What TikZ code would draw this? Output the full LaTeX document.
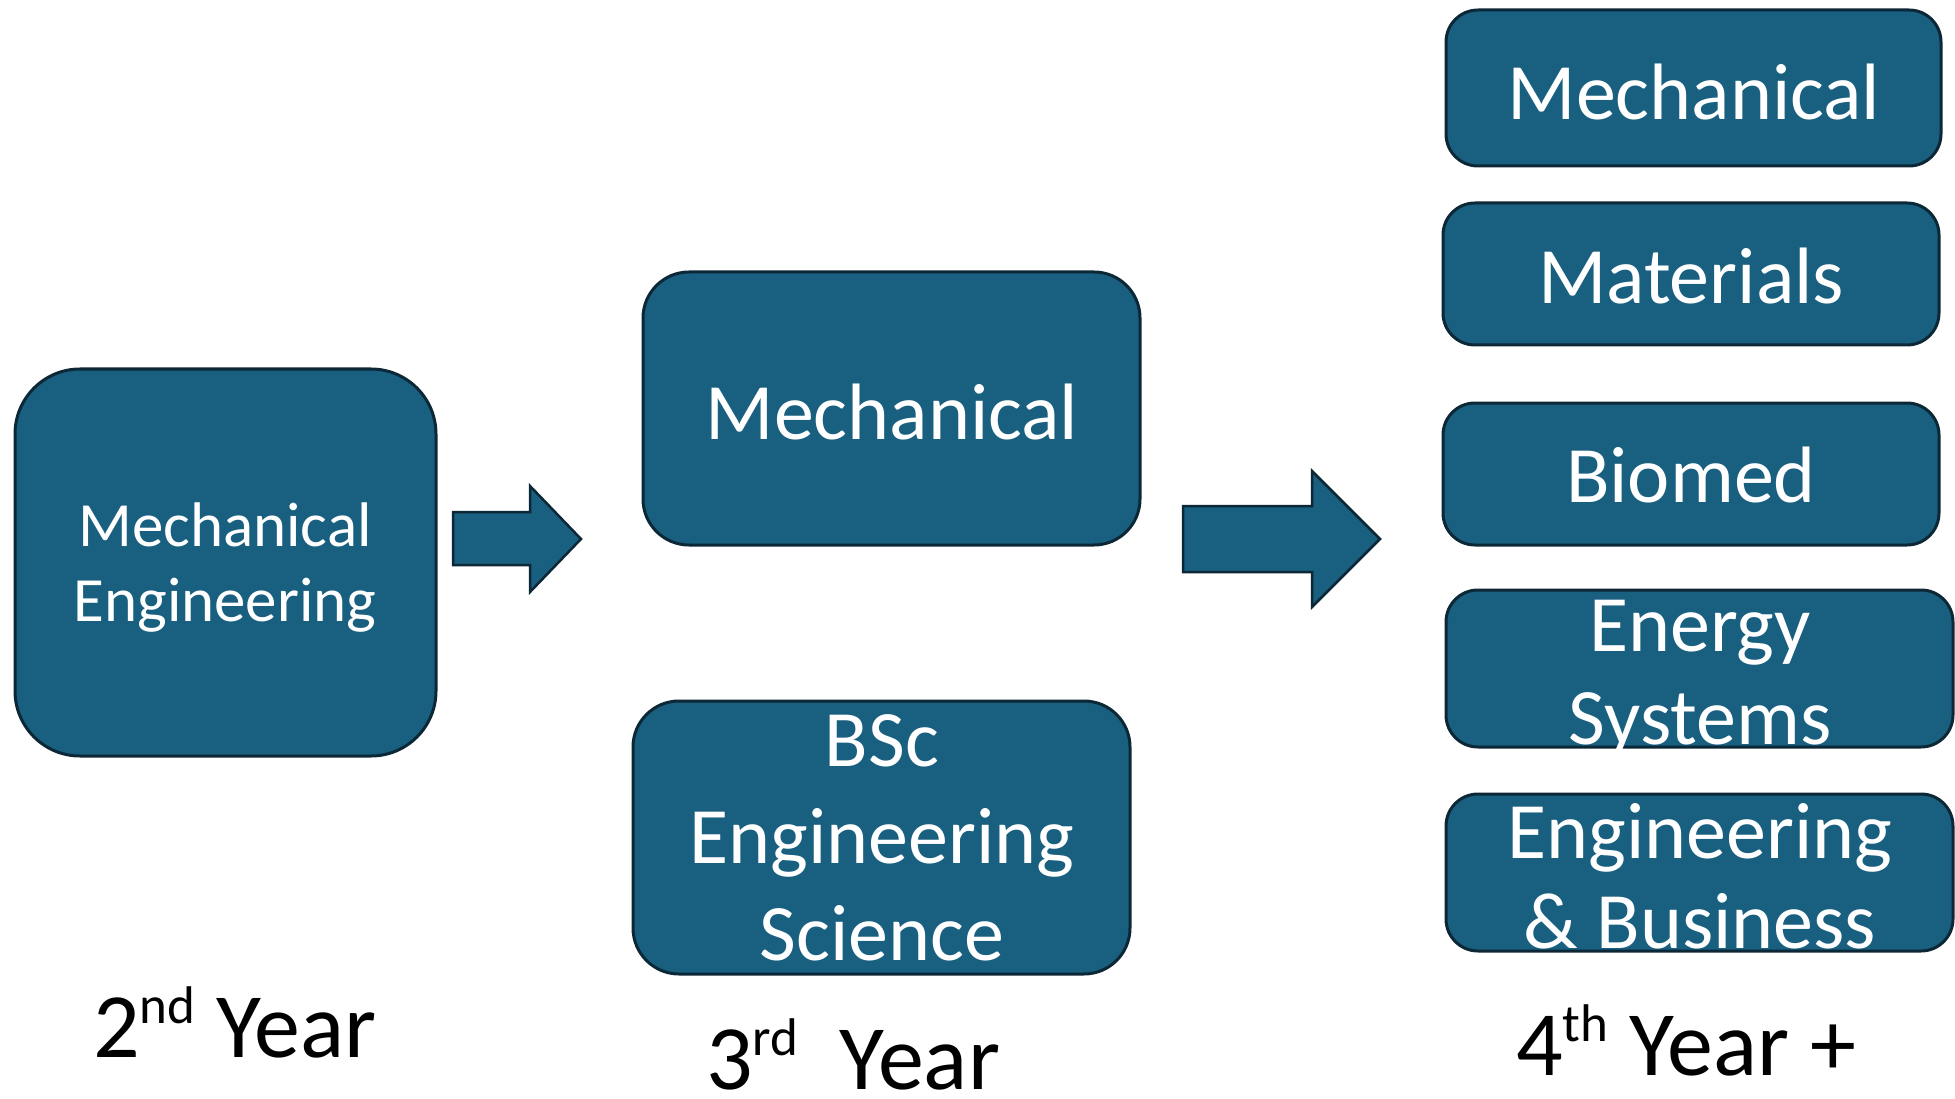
\documentclass[tikz,border=0pt]{standalone}
\usepackage{fontspec}
\setmainfont{Carlito}
\definecolor{boxfill}{RGB}{24,95,128}
\definecolor{boxline}{RGB}{12,40,55}
\newcommand{\supr}[1]{\raisebox{0.36em}{\fontsize{53}{53}\selectfont #1}}
\tikzset{
  card/.style={draw=boxline, fill=boxfill, line width=3pt, rounded corners=#1},
  blockarrow/.style={draw=boxline, fill=boxfill, line width=2.5pt, line join=miter},
  boxtext/.style={text=white, anchor=base, inner sep=0pt, align=center},
  yeartext/.style={text=black, anchor=base, inner sep=0pt, font=\fontsize{92}{100}\selectfont},
}
\begin{document}
\begin{tikzpicture}[x=1pt,y=-1pt]
\useasboundingbox (0,0) rectangle (1955,1099);

% second year
\draw[card=65pt] (15,369) rectangle (436,756);
\node[boxtext, font=\fontsize{63}{75}\selectfont] (meceng) at (225,621) {Mechanical\\Engineering};

% arrow to third year
\draw[blockarrow] (453,512) -- (530,512) -- (530,486) -- (581,539) -- (530,592) -- (530,565) -- (453,565) -- cycle;

% third year
\draw[card=46pt] (643,272) rectangle (1140,545);
\node[boxtext, font=\fontsize{80}{94}\selectfont] (mech3) at (892,439) {Mechanical};
\draw[card=46pt] (633,701) rectangle (1130,974);
\node[boxtext, font=\fontsize{80}{97}\selectfont] (bsc) at (882,960) {BSc\\Engineering\\Science};

% arrow to fourth year
\draw[blockarrow] (1183,506) -- (1312,506) -- (1312,471) -- (1380,539) -- (1312,607) -- (1312,572) -- (1183,572) -- cycle;

% fourth year options
\draw[card=32pt] (1446,10) rectangle (1941,166);
\node[boxtext, font=\fontsize{80}{94}\selectfont] (mech4) at (1694,120) {Mechanical};
\draw[card=32pt] (1443,203) rectangle (1939,345);
\node[boxtext, font=\fontsize{80}{94}\selectfont] (mat) at (1691,304) {Materials};
\draw[card=32pt] (1443,403) rectangle (1939,545);
\node[boxtext, font=\fontsize{80}{94}\selectfont] (bio) at (1691,502) {Biomed};
\draw[card=32pt] (1446,590) rectangle (1953,747);
\node[boxtext, font=\fontsize{80}{93}\selectfont] (energy) at (1700,744) {Energy\\Systems};
\draw[card=32pt] (1446,794) rectangle (1953,951);
\node[boxtext, font=\fontsize{80}{90}\selectfont] (engbus) at (1700,948) {Engineering\\\& Business};

% year captions
\node[yeartext] (y2) at (235,1057) {2\supr{nd} Year};
\node[yeartext] (y3) at (853,1089) {3\supr{rd}\ \ Year};
\node[yeartext] (y4) at (1686,1075) {4\supr{th} Year +};
\end{tikzpicture}
\end{document}
